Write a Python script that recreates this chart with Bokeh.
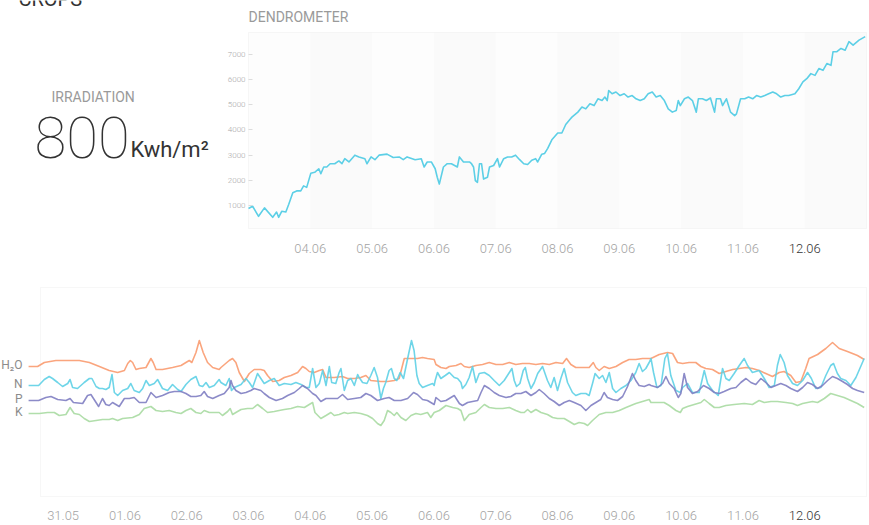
import pandas as pd
from bokeh.plotting import figure
from bokeh.models import Range1d, FixedTicker, BoxAnnotation, ColumnDataSource, DatetimeAxis
from bokeh.layouts import column
from bokeh.embed import file_html
from bokeh.resources import INLINE
from bokeh.core.properties import value

# ------------------------------------------------------------------ data
YEAR = 2017
crops_title = "CROPS"
irradiation_title = "IRRADIATION"
irradiation_value = "800"
irradiation_unit = "Kwh/m²"
dendro_title = "DENDROMETER"

dendro_start = "2017-06-03 00:00"
dendro_end = "2017-06-13 00:00"
dendro_hours = [0, 1.6, 3.9, 6.2, 9.4, 10.9, 11.7, 12.9, 14.5, 15.6, 17.2, 18.7, 20.3, 21.4, 22.6, 24.2, 25.7,
                27.3, 28.1, 29.2, 30.4, 31.7, 33.5, 35.1, 36.3, 37.4, 39.0, 41.3, 42.9, 45.2, 46.0, 47.6, 49.1,
                50.7, 53.8, 56.2, 58.5, 60.1, 61.6, 64.7, 67.1, 68.2, 69.4, 71.0, 72.5, 73.3, 74.1, 75.7, 77.2,
                78.8, 81.1, 81.9, 83.5, 85.8, 86.6, 87.4, 88.1, 88.9, 89.7, 90.5, 91.3, 92.8, 93.6, 95.2, 96.7,
                97.5, 99.1, 100.6, 102.2, 103.7, 105.3, 106.9, 108.4, 110.0, 111.5, 112.3, 113.9, 115.0, 116.2,
                117.8, 120.1, 121.7, 123.2, 124.8,
                125.6, 127.9, 129.5, 131.0, 132.6, 134.2, 135.7, 137.3, 138.4, 139.3, 139.9, 141.2, 142.7, 144.3,
                145.9, 147.4, 149.0, 150.5, 152.1, 153.7, 155.2, 156.8, 158.3, 159.9, 161.5, 163.0, 164.6, 166.1,
                166.9, 167.7, 169.3, 170.8, 172.4, 173.9, 174.7, 176.3, 177.8, 179.4, 181.0, 181.7, 183.3, 184.1,
                185.6, 187.2, 188.8, 189.5, 191.1, 192.7, 194.2, 195.8, 197.3, 198.9, 200.5, 202.0, 203.6, 205.1,
                206.7, 208.3, 209.8, 212.2, 213.7, 215.3, 216.8, 218.4, 220.0, 221.5, 223.1, 224.6, 226.2, 227.0,
                228.5, 230.1, 231.7, 233.2, 234.8, 237.1, 239.5]
dendro_values = [880, 970, 570, 905, 530, 740, 530, 770, 740, 1040, 1510, 1580, 1580, 1780, 1720, 2280, 2320,
                 2460, 2260, 2530, 2530, 2660, 2660, 2770, 2660, 2860, 2730, 3000, 2930, 2860, 2660, 2930, 2820,
                 3000, 3040, 2910, 2930, 2820, 2930, 2820, 2860, 2530, 2730, 2730, 2460, 2120, 1850, 2530, 2660,
                 2660, 2530, 2930, 2730, 2730, 2660, 2530, 1990, 1920, 2660, 2660, 2050, 2120, 2530, 2590, 2860,
                 2530, 2860, 2930, 2930, 3000, 2820, 2660, 2630, 2800, 2860, 2730, 3040, 3070, 3270,
                 3610, 3880, 3880, 4220, 4420,
                 4510, 4710, 4910, 4840, 5040, 4970, 5240, 5170, 5310, 5170, 5570, 5440, 5510, 5370,
                 5440, 5310, 5370, 5240, 5170, 5240, 5440, 5510, 5310, 5370, 5170, 4840, 4710, 4770,
                 5170, 4970, 5240, 5310, 5170, 4710, 5240, 5240, 5170, 5270, 4710, 5240, 5240, 4970,
                 5240, 4710, 4570, 4640, 5240, 5240, 5310, 5240, 5370, 5310, 5370, 5440, 5510, 5440,
                 5310, 5370, 5370, 5440, 5640, 5910, 6040, 6240, 6170, 6440, 6370, 6640, 6570, 7110,
                 7110, 7240, 7170, 7510, 7370, 7570, 7710]
dendro_y_ticks = [1000, 2000, 3000, 4000, 5000, 6000, 7000]
top_tick_labels = ["04.06", "05.06", "06.06", "07.06", "08.06", "09.06", "10.06", "11.06", "12.06"]

soil_start = "2017-05-31 00:00"
soil_names = ["H₂O", "N", "P", "K"]
soil_colors = ["#f99b70", "#5ed0e6", "#7f7ec2", "#a9daa2"]

h2o_hours = [-13.4, -9.9, -7.3, -2.8, 1.1, 6.3, 10.2, 14.1, 17.9, 21.2, 23.8, 25.1, 26.1, 27.0, 28.3, 29.6, 32.2,
             34.1, 35.0, 36.1, 38.6, 42.5, 45.8, 47.7, 49.0, 50.0, 51.6, 52.9, 54.4, 56.1, 58.1, 60.6,
             61.3, 64.5, 65.8, 67.1, 68.4, 70.4, 72.3, 74.2, 76.8, 78.1, 79.4, 81.4, 83.9, 85.9, 88.5, 91.1,
             93.0, 94.3, 95.6, 97.5, 99.5, 100.8, 102.1, 105.3, 108.5, 110.5, 113.1, 115.6, 117.6, 119.5, 123.4,
             126.0, 128.6, 130.5, 132.5, 135.1, 137.6, 139.6, 141.5, 144.1,
             144.8, 146.7, 148.7, 150.0, 152.6, 154.5, 155.8, 157.7, 160.3, 162.9, 165.5, 168.1, 170.7, 173.3,
             175.8, 178.4, 181.0, 183.6, 186.2, 188.8, 191.4, 194.0, 195.5, 197.2, 199.1, 201.7, 204.3, 205.9,
             206.9, 208.2, 210.1, 212.1, 214.7, 217.3, 219.8, 222.4, 225.0, 227.6,
             228.3, 231.5, 234.7, 236.7, 238.6, 240.6, 243.1, 245.7, 247.7, 249.6, 252.2, 254.8, 257.4, 260.0,
             262.6, 265.2, 267.7, 270.3, 272.9, 275.5, 278.1, 280.0, 282.6, 284.6, 286.5, 288.4, 289.7, 293.0,
             296.2, 298.8, 301.4, 304.6, 308.5, 311.1]
h2o_values = [130, 130, 134, 136, 136, 136, 134, 130, 126, 124, 126, 133, 136, 134, 127, 128, 129,
              138, 134, 127, 127, 129, 131, 134, 136, 134, 144, 156, 144, 134, 129, 127,
              129, 136, 138, 134, 124, 115, 123, 127, 127, 126, 121, 115, 116, 119, 121, 124,
              130, 128, 125, 124, 126, 127, 119, 119, 120, 118, 118, 119, 121, 116, 115,
              115, 116, 118, 138, 138, 138, 139, 138, 137,
              132, 129, 128, 130, 131, 133, 130, 129, 131, 132, 134, 132, 132, 134,
              132, 133, 133, 132, 133, 132, 134, 133, 138, 132, 129, 129, 129, 134,
              129, 126, 130, 128, 130, 134, 137, 137, 138, 138,
              138, 142, 144, 143, 134, 133, 134, 134, 130, 128, 127, 123, 125, 127,
              128, 129, 128, 126, 123, 120, 124, 125, 121, 114, 115, 128, 138, 142,
              148, 154, 148, 145, 141, 137]

n_hours = [-13.4, -9.5, -7.3, -5.4, -4.1, -2.1, -0.2, 1.8, 2.7, 3.7, 5.6, 8.2, 10.2, 11.2, 12.8, 14.1, 15.3,
           16.6, 17.9, 19.0, 19.9, 21.2, 23.1, 25.1, 26.3, 27.6, 29.6, 30.9, 32.2, 33.5, 35.4, 36.7, 38.6,
           40.6, 42.5, 44.5, 45.8, 47.7, 49.6, 51.6, 52.9, 54.2, 55.5, 56.8, 58.7, 60.6,
           61.3, 63.2, 64.5, 65.4, 66.5, 69.1, 71.0, 72.3, 73.6, 75.5, 76.8, 78.1, 80.1, 82.0, 83.9, 85.9,
           88.5, 90.4, 92.4, 94.3, 95.6, 96.9, 98.2, 99.5, 100.8, 102.1, 103.4, 104.3, 105.9, 107.2, 107.9,
           109.2, 110.5, 111.8, 113.1, 114.4, 115.0, 116.3, 118.0, 119.5, 120.8, 122.1, 123.4, 124.4, 125.3,
           126.6, 127.5, 128.6, 129.6, 130.9, 132.2, 133.8, 135.3, 136.3, 137.4, 138.3, 139.6, 141.5, 143.5,
           144.1,
           144.5, 145.4, 146.7, 148.4, 150.0, 151.9, 153.2, 154.5, 155.1, 156.4, 157.7, 159.0, 160.3, 161.6,
           163.6, 165.5, 167.4, 169.4, 171.3, 173.3, 174.3, 175.2, 176.1, 177.4, 178.7, 179.5, 180.4, 181.7,
           183.0, 184.3, 186.2, 188.1, 189.4, 190.7, 192.0, 193.3, 194.6, 195.9, 197.8, 199.1, 201.1, 203.0,
           204.3, 205.6, 206.6, 208.2, 209.5, 210.8, 212.1, 213.4, 214.7, 216.6, 218.6, 220.5, 222.4, 223.7,
           225.0, 226.3, 227.6,
           228.3, 229.3, 230.6, 232.2, 233.7, 234.7, 236.0, 238.0, 239.7, 240.6, 242.5, 244.4, 247.0, 249.0,
           250.3, 252.2, 254.4, 256.1, 257.4, 258.7, 260.6, 262.6, 264.5, 265.8, 267.7, 270.3, 272.3, 274.2,
           276.2, 277.4, 278.5, 280.0, 281.3, 283.3, 285.2, 287.2, 289.1, 290.6, 292.3, 294.3, 296.2, 298.1,
           299.2, 300.7, 302.0, 304.0, 305.9, 307.9, 311.1]
n_values = [111, 111, 117, 120, 118, 114, 110, 113, 117, 109, 108, 114, 118, 118, 110, 108, 108,
            107, 109, 122, 104, 101, 106, 108, 113, 106, 104, 108, 116, 111, 113, 117, 108,
            106, 112, 107, 105, 112, 117, 120, 111, 110, 114, 109, 111, 117,
            114, 111, 118, 106, 109, 112, 118, 114, 109, 123, 118, 113, 116, 118, 111, 113,
            112, 114, 112, 109, 109, 128, 109, 113, 126, 111, 130, 114, 113, 124, 128,
            106, 116, 118, 111, 122, 119, 114, 113, 121, 129, 119, 98, 108, 114,
            126, 128, 118, 116, 124, 118, 138, 156, 146, 121, 113, 109, 111, 113,
            111,
            116, 124, 118, 121, 124, 119, 118, 114, 108, 112, 119, 130, 114, 123,
            124, 121, 116, 111, 116, 124, 128, 116, 110, 113, 126, 129, 118, 108,
            114, 123, 130, 116, 109, 119, 106, 118, 128, 114, 104, 101, 103, 103,
            101, 113, 123, 118, 121, 114, 124, 108, 104, 108, 111, 116, 124, 133,
            125, 128, 134,
            138, 124, 109, 111, 138, 143, 121, 106, 104, 109, 113, 104, 104, 126,
            113, 106, 101, 128, 118, 116, 123, 131, 138, 131, 124, 126, 118, 109,
            111, 131, 142, 134, 121, 113, 111, 116, 124, 118, 108, 109, 121, 131,
            133, 123, 118, 116, 111, 119, 138]

p_hours = [-13.4, -9.5, -6.7, -4.7, -2.1, 1.1, 2.7, 4.0, 7.6, 9.5, 10.8, 12.8, 13.8, 15.3, 16.6, 17.9, 19.2,
           20.5, 21.8, 23.8, 25.7, 27.6, 29.6, 32.2, 34.1, 36.1, 38.6, 41.2, 43.2, 45.8, 47.7, 49.6, 51.6,
           53.5, 54.8, 56.1, 58.1, 60.6,
           62.6, 64.5, 65.2, 65.8, 67.1, 69.1, 71.0, 72.9, 74.2, 76.8, 78.1, 80.1, 82.7, 85.2, 87.2, 89.8,
           91.7, 93.0, 94.9, 96.9, 98.2, 100.1, 102.1, 104.7, 106.6, 108.5, 110.5, 113.1, 115.6, 117.6, 119.5,
           122.1, 124.7, 126.6, 128.6, 131.2, 133.8, 136.1, 137.6, 139.6, 141.5, 144.1,
           144.8, 146.7, 148.7, 150.6, 151.9, 153.9, 155.1, 157.1, 159.0, 161.0, 162.3, 163.6, 165.5, 167.4,
           169.4, 172.0, 173.9, 175.8, 177.8, 179.7, 181.7, 183.6, 184.9, 186.8, 188.8, 190.7, 192.7, 194.6,
           196.6, 198.5, 201.1, 203.0, 205.0, 206.9, 208.8, 210.1, 211.4, 213.4, 215.3, 217.3, 219.2, 221.1,
           222.4, 223.7, 225.7, 227.6,
           228.3, 230.9, 232.8, 234.1, 235.4, 237.3, 238.9, 239.9, 241.2, 242.5, 244.4, 246.4, 248.7, 250.9,
           252.9, 254.8, 256.7, 259.3, 261.3, 263.2, 265.2, 267.1, 269.0, 271.0, 272.9, 274.9, 276.8, 278.7,
           280.7, 282.6, 285.2, 287.2, 289.1, 291.0, 293.0, 294.9, 296.9, 298.8, 300.7, 302.7, 304.6, 306.6,
           308.5, 311.1]
p_values = [96, 96, 99, 100, 97, 96, 98, 94, 93, 101, 102, 94, 90, 98, 92, 91, 94,
            92, 90, 98, 98, 99, 94, 94, 104, 99, 101, 104, 105, 105, 103, 100, 100,
            101, 105, 100, 98, 101,
            103, 109, 116, 111, 106, 103, 104, 106, 108, 106, 103, 99, 96, 98, 101, 104,
            108, 111, 108, 103, 101, 95, 98, 98, 98, 102, 97, 98, 99, 103, 101,
            96, 98, 99, 96, 96, 98, 104, 102, 97, 96, 92,
            99, 95, 96, 99, 101, 93, 91, 94, 95, 96, 104, 111, 108, 104,
            101, 99, 100, 103, 103, 105, 101, 104, 107, 103, 98, 95, 91, 94,
            96, 94, 91, 86, 91, 94, 97, 104, 99, 97, 96, 100, 110, 123,
            116, 111, 110, 112,
            111, 109, 113, 120, 113, 108, 99, 103, 123, 109, 103, 105, 111, 108,
            104, 103, 105, 108, 109, 114, 118, 114, 112, 118, 114, 109, 111, 113,
            111, 108, 105, 109, 114, 112, 108, 111, 116, 120, 118, 115, 112, 108,
            106, 104]

k_hours = [-13.4, -9.2, -6.0, -3.4, -1.5, 1.1, 2.7, 4.3, 6.3, 8.2, 10.2, 12.8, 15.3, 17.9, 19.2, 21.2, 23.1,
           27.0, 29.6, 31.5, 34.1, 36.1, 38.6, 41.2, 43.8, 45.8, 47.7, 49.6, 51.6, 53.5, 54.8, 56.8, 60.6,
           61.9, 63.9, 64.9, 65.8, 67.1, 69.1, 71.6, 73.6, 75.5, 77.5, 79.4, 82.0, 83.9, 85.9, 88.5, 91.1,
           93.7, 95.6, 96.9, 97.8, 100.1, 102.1, 104.0, 105.3, 107.2, 109.2, 110.5, 113.1, 115.6, 118.2,
           120.2, 122.1, 123.4, 124.7, 126.0, 127.3, 128.6, 129.6, 131.2, 133.1, 135.1, 137.0, 138.9, 141.5,
           142.8, 144.1,
           146.1, 148.7, 151.3, 153.2, 154.5, 155.8, 157.7, 160.3, 162.3, 163.6, 165.5, 168.1, 170.7, 173.3,
           175.8, 177.8, 179.1, 180.4, 181.7, 183.6, 185.6, 188.1, 190.1, 192.0, 194.6, 196.6, 198.5, 200.4,
           202.4, 203.7, 205.6, 208.2, 210.8, 213.4, 216.0, 218.6, 220.5, 222.4, 225.0, 227.6,
           228.3, 231.5, 233.4, 235.4, 238.0, 239.7, 240.6, 242.5, 245.1, 247.7, 249.0, 250.9, 252.9, 254.8,
           257.4, 260.6, 264.5, 267.7, 270.3, 272.3, 274.9, 277.4, 280.7, 283.3, 285.2, 287.2, 289.1, 291.0,
           293.0, 295.6, 298.1, 300.7, 303.3, 305.9, 308.5, 311.1]
k_values = [83, 83, 84, 84, 81, 82, 89, 83, 82, 78, 75, 76, 77, 77, 78, 76, 78,
            79, 82, 88, 90, 86, 85, 86, 84, 83, 86, 88, 84, 83, 86, 84, 84,
            81, 85, 88, 82, 84, 87, 88, 88, 92, 88, 84, 85, 86, 87, 88, 90,
            89, 92, 94, 84, 78, 81, 84, 81, 82, 84, 83, 84, 83, 81,
            78, 73, 71, 76, 86, 84, 81, 84, 79, 76, 81, 83, 82, 84,
            79, 84,
            86, 91, 89, 88, 86, 76, 82, 84, 89, 92, 89, 88, 88, 89,
            86, 84, 84, 87, 84, 87, 84, 82, 79, 78, 78, 75, 72, 74,
            73, 71, 76, 82, 84, 84, 86, 89, 91, 93, 95, 97,
            94, 94, 94, 91, 86, 84, 88, 90, 92, 94, 97, 93, 89, 89,
            91, 92, 93, 92, 96, 94, 95, 95, 94, 93, 91, 93, 94, 95,
            94, 98, 103, 101, 99, 96, 93, 89]

bottom_tick_labels = ["31.05", "01.06", "02.06", "03.06", "04.06", "05.06", "06.06", "07.06", "08.06",
                      "09.06", "10.06", "11.06", "12.06"]
highlight_label = "12.06"

# ------------------------------------------------------------------ helpers
HOUR = 3600 * 1000.0


def ms(ts):
    return pd.Timestamp(ts).value / 1e6


def tick_ms(lbl):
    d, m = lbl.split(".")
    return ms(pd.Timestamp(year=YEAR, month=int(m), day=int(d)))


TICK_FONT = "'Roboto Light', Roboto"
GRAY = "#a3a3a3"
DARK = "#333333"


def style_x_axis(ax, labels, color, standoff, loc):
    ax.ticker = FixedTicker(ticks=[tick_ms(l) for l in labels])
    ax.major_label_overrides = {tick_ms(l): l for l in labels}
    ax.fixed_location = loc
    ax.axis_line_color = None
    ax.major_tick_line_color = None
    ax.minor_tick_line_color = None
    ax.major_tick_in = 0
    ax.major_tick_out = 0
    ax.major_label_standoff = standoff
    ax.major_label_text_font = TICK_FONT
    ax.major_label_text_font_size = "13px"
    ax.major_label_text_color = color


# ------------------------------------------------------------------ layout (page has no margin)
W = 869
TOP_H, BOT_H = 266, 259
BOX_L, BOX_R, BOX_T, BOX_B = 248, 866, 32, 228      # dendrometer chart box, in canvas pixels

t0 = ms(dendro_start)
top_x0, top_x1 = t0, ms(dendro_end)
top_y0, top_y1 = 86, 7874
pph = (BOX_R - BOX_L) / ((top_x1 - top_x0) / HOUR)     # pixels per hour (shared by both charts)
upp = (top_y1 - top_y0) / (BOX_B - BOX_T)               # dendrometer units per pixel


def tx(px):
    return top_x0 + (px - BOX_L) / pph * HOUR


def ty(py):
    return top_y1 - (py - BOX_T) * upp


# ------------------------------------------------------------------ top figure
p = figure(width=W, height=TOP_H, title=None, x_axis_type="datetime",
           x_range=Range1d(tx(0), tx(W)), y_range=Range1d(ty(TOP_H), ty(0)),
           min_border=0, outline_line_color=None, background_fill_color="white",
           toolbar_location=None, output_backend="svg")
p.grid.visible = False

p.add_layout(BoxAnnotation(left=top_x0, right=top_x1, bottom=top_y0, top=top_y1,
                           fill_color="#fdfdfd", fill_alpha=1, line_color=None, level="underlay"))
n_days = int(round((top_x1 - top_x0) / (24 * HOUR)))
for i in range(n_days):
    if i % 2 == 1:
        p.add_layout(BoxAnnotation(left=top_x0 + i * 24 * HOUR, right=top_x0 + (i + 1) * 24 * HOUR,
                                   bottom=top_y0, top=top_y1, fill_color="#fafafa", fill_alpha=1,
                                   line_color=None, level="underlay"))
p.add_layout(BoxAnnotation(left=top_x0, right=top_x1, bottom=top_y0, top=top_y1,
                           fill_color=None, fill_alpha=0, line_color="#e6e6e6", line_width=1,
                           level="underlay"))

src = ColumnDataSource(dict(x=[t0 + h * HOUR for h in dendro_hours], y=dendro_values))
p.line("x", "y", source=src, line_color="#5ccfe6", line_width=1.6, line_join="round")

yax = p.yaxis[0]
yax.fixed_location = top_x0
yax.ticker = FixedTicker(ticks=dendro_y_ticks)
yax.axis_line_color = None
yax.major_tick_in = 4
yax.major_tick_out = 0
yax.major_tick_line_color = "#dcdcdc"
yax.minor_tick_line_color = None
yax.major_label_text_font = TICK_FONT
yax.major_label_text_font_size = "8px"
yax.major_label_text_color = "#a8a8a8"
yax.major_label_standoff = 3

style_x_axis(p.xaxis[0], [l for l in top_tick_labels if l != highlight_label], GRAY, 15, top_y0)
top_hl_axis = DatetimeAxis()
style_x_axis(top_hl_axis, [highlight_label], DARK, 15, top_y0)
p.add_layout(top_hl_axis, "below")

# texts of the top band (positioned by the visual centre of their capitals)
p.text(x=[tx(18)], y=[ty(-2)], text=[crops_title], text_font=value("Roboto"), text_font_size="20px",
       text_color=DARK, text_baseline="middle")
p.text(x=[tx(51)], y=[ty(96)], text=[irradiation_title], text_font=value("Roboto"),
       text_font_size="14px", text_color="#9a9a9a", text_baseline="middle")
p.text(x=[tx(34)], y=[ty(137)], text=[irradiation_value],
       text_font=value("'Roboto Thin', 'Lato Hairline', 'Lato Thin', Roboto"),
       text_font_size="58px", text_color=DARK, text_baseline="middle")
p.text(x=[tx(130)], y=[ty(149)], text=[irradiation_unit], text_font=value("Roboto"),
       text_font_size="22px", text_color=DARK, text_baseline="middle")
p.text(x=[tx(BOX_L)], y=[ty(16)], text=[dendro_title], text_font=value("Roboto"),
       text_font_size="14px", text_color="#9a9a9a", text_baseline="middle")

# ------------------------------------------------------------------ bottom figure
s0 = ms(soil_start)
SOIL_BOX_L, SOIL_BOX_B, SOIL_BOX_T = 40, 496, 287   # page pixels of the soil chart box
BOT_TOP = TOP_H                                       # page y of the bottom canvas


def bx(px):
    return top_x1 - (BOX_R - px) / pph * HOUR


def by(py):
    return SOIL_BOX_B - py                             # soil units: 1 per pixel above the box bottom


q = figure(width=W, height=BOT_H, title=None, x_axis_type="datetime", y_axis_type=None,
           x_range=Range1d(bx(0), bx(W)), y_range=Range1d(by(BOT_TOP + BOT_H), by(BOT_TOP)),
           min_border=0, outline_line_color=None, toolbar_location=None, output_backend="svg")
q.grid.visible = False

q.add_layout(BoxAnnotation(left=bx(SOIL_BOX_L), right=top_x1, bottom=by(SOIL_BOX_B), top=by(SOIL_BOX_T),
                           fill_color=None, fill_alpha=0, line_color="#e6e6e6", line_width=1,
                           level="underlay"))

series = [(h2o_hours, h2o_values), (n_hours, n_values), (p_hours, p_values), (k_hours, k_values)]
for (hrs, vals), color in zip(series, soil_colors):
    s = ColumnDataSource(dict(x=[s0 + h * HOUR for h in hrs], y=vals))
    q.line("x", "y", source=s, line_color=color, line_width=1.6, line_join="round", line_alpha=0.9)

q.text(x=[bx(22)] * len(soil_names), y=[v[0] + 2 for _, v in series], text=soil_names,
       text_align="right", text_baseline="middle", text_font=value("Roboto"),
       text_font_size="12px", text_color="#8c8c8c")

style_x_axis(q.xaxis[0], [l for l in bottom_tick_labels if l != highlight_label], GRAY, 14, by(SOIL_BOX_B))
bot_hl_axis = DatetimeAxis()
style_x_axis(bot_hl_axis, [highlight_label], DARK, 14, by(SOIL_BOX_B))
q.add_layout(bot_hl_axis, "below")

layout = column(p, q)
open("out.html", "w").write(file_html(layout, INLINE))
